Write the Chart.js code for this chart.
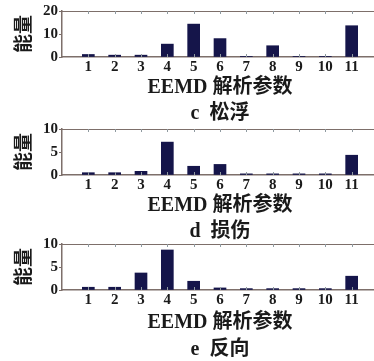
<!DOCTYPE html>
<html>
<head>
<meta charset="utf-8">
<script src="https://cdn.jsdelivr.net/npm/chart.js@4.4.1/dist/chart.umd.min.js"></script>
<style>
  html, body { margin: 0; padding: 0; background: #fff; }
  body { width: 374px; height: 361px; overflow: hidden; position: relative; }
  .panel { position: absolute; left: 0; width: 380px; }
</style>
</head>
<body>
<div class="panel" style="top:0px;height:128px"><canvas id="chartC"></canvas></div>
<div class="panel" style="top:118px;height:128px"><canvas id="chartD"></canvas></div>
<div class="panel" style="top:233px;height:131px"><canvas id="chartE"></canvas></div>
<script>
// EEMD parameters 1..11 and energy per panel
const categories = ["1", "2", "3", "4", "5", "6", "7", "8", "9", "10", "11"];
const looseValues = [1.1, 0.8, 0.8, 5.6, 14.3, 8.0, 0.3, 4.9, 0.3, 0.3, 13.6];
const damageValues = [0.5, 0.5, 0.8, 7.15, 1.9, 2.3, 0.25, 0.25, 0.25, 0.25, 4.3];
const reverseValues = [0.6, 0.6, 3.7, 8.7, 1.9, 0.45, 0.3, 0.3, 0.3, 0.3, 3.0];
const yMaxC = 20, yStepC = 10;
const yMaxDE = 10, yStepDE = 5;

const FRAME = "#7d6f6a";
const TICKMARK = "#8f9aa0";
const BAR = "#15154a";
const SERIF = "'Liberation Serif', 'Noto Sans CJK SC', serif";

// top border plus small inward tick marks, like the original figure
const framePlugin = {
    id: "frame",
    afterDraw(chart) {
        const { ctx, chartArea: a } = chart;
        const x = chart.scales.x;
        ctx.save();
        ctx.strokeStyle = FRAME;
        ctx.lineWidth = 1;
        ctx.beginPath();
        ctx.moveTo(a.left, a.top + 0.5);
        ctx.lineTo(a.right, a.top + 0.5);
        ctx.stroke();

        ctx.strokeStyle = TICKMARK;
        ctx.beginPath();
        for (let i = 1; i < x.ticks.length - 1; i++) {
            const px = Math.round(x.getPixelForTick(i)) + 0.5;
            ctx.moveTo(px, a.top);
            ctx.lineTo(px, a.top + 3);
            ctx.moveTo(px, a.bottom);
            ctx.lineTo(px, a.bottom - 3);
        }
        ctx.stroke();
        ctx.restore();
    }
};

function buildPanel(id, values, yMax, yStep, caption, lineGap, xHeight) {
    const labels = ["", ...categories, ""];
    const data = [null, ...values, null];
    new Chart(document.getElementById(id), {
        type: "bar",
        data: {
            labels: labels,
            datasets: [{
                data: data,
                backgroundColor: BAR,
                barThickness: 12
            }]
        },
        options: {
            responsive: true,
            maintainAspectRatio: false,
            animation: false,
            layout: { padding: { top: 11, right: 2, left: 0, bottom: 0 } },
            plugins: { legend: { display: false }, tooltip: { enabled: false } },
            scales: {
                x: {
                    offset: false,
                    grid: { display: false, drawTicks: false },
                    border: { display: true, color: FRAME, width: 1.5 },
                    ticks: {
                        autoSkip: false,
                        maxRotation: 0,
                        padding: 1,
                        color: "#1a1a1a",
                        font: { family: SERIF, size: 15, weight: "bold" },
                        callback: (v, i) => labels[i]
                    },
                    title: {
                        display: true,
                        text: ["EEMD 解析参数", caption],
                        color: "#1a1a1a",
                        font: { family: SERIF, size: 20, weight: "bold", lineHeight: lineGap + "px" },
                        padding: { top: 0, bottom: 1 }
                    },
                    afterFit: s => { s.height = xHeight; }
                },
                y: {
                    min: 0,
                    max: yMax,
                    grid: { display: true, drawOnChartArea: false, drawTicks: true, tickLength: 3, color: FRAME },
                    border: { display: true, color: FRAME, width: 1.5 },
                    ticks: {
                        stepSize: yStep,
                        padding: 1,
                        color: "#1a1a1a",
                        font: { family: SERIF, size: 15, weight: "bold" }
                    },
                    title: {
                        display: true,
                        text: "能量",
                        color: "#1a1a1a",
                        font: { family: "'Noto Sans CJK SC'", size: 19, weight: "bold" },
                        padding: { top: 11, bottom: 0 }
                    },
                    afterFit: s => { s.width = 62; }
                }
            }
        },
        plugins: [framePlugin]
    });
}

buildPanel("chartC", looseValues, yMaxC, yStepC, "c  松浮", 26, 71);
buildPanel("chartD", damageValues, yMaxDE, yStepDE, "d  损伤", 26, 71);
buildPanel("chartE", reverseValues, yMaxDE, yStepDE, "e  反向", 27, 74);
</script>
</body>
</html>
